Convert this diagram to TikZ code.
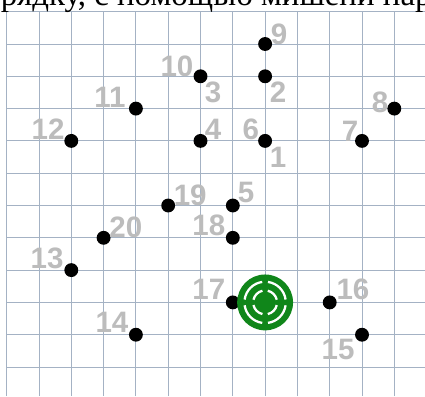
\documentclass[tikz,border=0pt]{standalone}
\usepackage{fontspec}
\usepackage{xcolor}
\usepackage{tikz}
\usetikzlibrary{positioning, calc}
\setmainfont{Liberation Serif}
\newfontfamily\numfont{Liberation Sans}
\definecolor{gridblue}{RGB}{164, 178, 196}
\definecolor{numgray}{RGB}{188, 188, 188}
\definecolor{targetgreen}{RGB}{16, 134, 26}

\begin{document}
\begin{tikzpicture}[
    gridline/.style={draw=gridblue, line width=0.8pt},
    dot/.style={circle, fill=black, inner sep=0pt, minimum size=0.43cm},
    numlabel/.style={text=numgray, inner sep=0pt, font=\numfont\bfseries\fontsize{26}{26}\selectfont},
    ring/.style={draw=white, line width=2pt}
]
    % рамка и сетка
    \useasboundingbox (-0.207, -11.9) rectangle (12.95, 0.362);
    \clip (-0.207, -11.9) rectangle (12.95, 0.362);
    \fill[white] (-0.207, -11.9) rectangle (12.95, 0.362);
    \draw[gridline] (0, -11.9) grid (12.95, 0);

    % текст сверху
    \node[anchor=base west, inner sep=0pt, font=\fontsize{29}{29}\selectfont] (caption) at (-0.19, 0.19) {рядку, с помощью мишени нарисуйте};

    % точки
    \foreach \n/\x/\y in {1/8/-4, 2/8/-2, 3/6/-2, 4/6/-4, 5/7/-6, 7/11/-4, 8/12/-3, 9/8/-1, 11/4/-3, 12/2/-4,
                          13/2/-8, 14/4/-10, 15/11/-10, 16/10/-9, 17/7/-9, 18/7/-7, 19/5/-6, 20/3/-7} {
        \node[dot] (p\n) at (\x, \y) {};
    }

    % мишень
    \node[circle, fill=targetgreen, minimum size=1.73cm, inner sep=0pt] (target) at (8, -9) {};
    \foreach \a in {0, 90, 180, 270} {
        \draw[ring] ($(target.center)+(\a+8:0.64)$) arc[start angle=\a+8, end angle=\a+82, radius=0.64];
        \draw[ring] ($(target.center)+(\a+13:0.37)$) arc[start angle=\a+13, end angle=\a+77, radius=0.37];
    }

    % номера
    \foreach \n/\x/\y in {1/8.40/-4.50, 2/8.40/-2.49, 3/6.39/-2.49, 4/6.39/-3.63, 5/7.41/-5.61,
                          6/7.56/-3.63, 7/10.63/-3.69, 8/11.56/-2.80, 9/8.43/-0.69, 10/5.27/-1.68,
                          11/3.20/-2.64, 12/1.28/-3.63, 13/1.25/-7.63, 14/3.26/-9.61, 15/10.26/-10.47,
                          16/10.72/-8.59, 17/6.26/-8.59, 18/6.26/-6.60, 19/5.68/-5.67, 20/3.69/-6.67} {
        \node[numlabel] (l\n) at (\x, \y) {\n};
    }
\end{tikzpicture}
\end{document}
